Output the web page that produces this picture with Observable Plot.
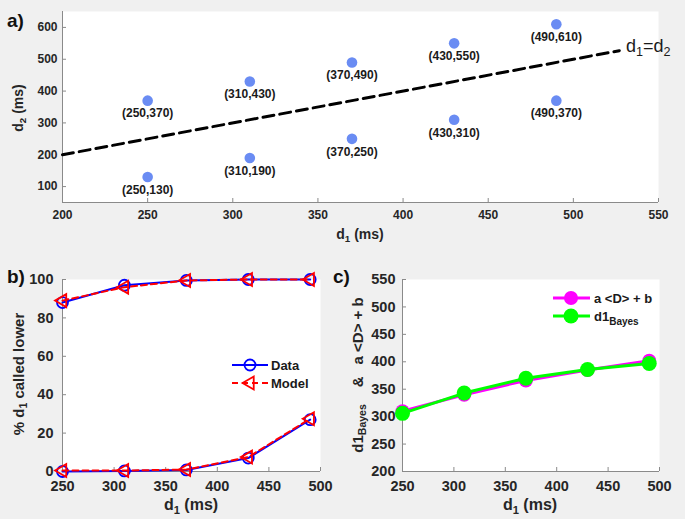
<!DOCTYPE html>
<html><head><meta charset="utf-8">
<script src="https://cdn.jsdelivr.net/npm/d3@7"></script>
<script src="https://cdn.jsdelivr.net/npm/@observablehq/plot@0.6"></script>
<style>
html,body{margin:0;padding:0;background:#f0f0f0;}
#wrap{position:relative;width:685px;height:519px;background:#f0f0f0;overflow:hidden;font-family:"Liberation Sans",Arial,Helvetica,sans-serif;font-weight:bold;color:#262626;}
.abs{position:absolute;white-space:nowrap;line-height:1;}
.c{transform:translate(-50%,-50%);}
.r{transform:translate(-50%,-50%) rotate(-90deg);}
sub{font-size:70%;vertical-align:-0.35em;line-height:0;}
svg{position:absolute;}
</style></head><body><div id="wrap"></div>
<script>
// ---------- data ----------
// panel a: stimulus pairs
const d1Pairs = [250,250,310,310,370,370,430,430,490,490];
const d2Pairs = [370,130,430,190,490,250,550,310,610,370];
const identityEnds = [200, 527];
const aXTicks = [200,250,300,350,400,450,500,550];
const aYTicks = [100,200,300,400,500,600];
// panel b: % d1 called lower
const d1Levels = [250,310,370,430,490];
const dataHigh = [88,97,99.5,100,100];
const dataLow = [0,0.3,0.8,7,27];
const modelHigh = [89,96,99.5,100,100];
const modelLow = [0.5,0.5,1,7.5,27.5];
const bXTicks = [250,300,350,400,450,500];
const bYTicks = [0,20,40,60,80,100];
// panel c
const linearFit = [310,340,366,385,402];
const d1Bayes = [306,343,370,386,397];
const cYTicks = [200,250,300,350,400,450,500,550];

// ---------- helpers ----------
const FONT = '"Liberation Sans",Arial,Helvetica,sans-serif';
const axisGray = "#8a8a8a";
const ink = "#262626";
const TICKFS = 14.5;
const wrap = document.getElementById("wrap");

const leftTriangle = {
  draw(ctx, size) {
    const a = Math.sqrt(4 * size / Math.sqrt(3));
    const h = a * Math.sqrt(3) / 2;
    ctx.moveTo(-2 * h / 3, 0);
    ctx.lineTo(h / 3, -a / 2);
    ctx.lineTo(h / 3, a / 2);
    ctx.closePath();
  }
};

function place(el, left, top) { el.style.left = left + "px"; el.style.top = top + "px"; wrap.appendChild(el); }
function label(html, x, y, size, cls, extra) {
  const d = document.createElement("div");
  d.className = "abs " + cls;
  d.innerHTML = html;
  d.style.fontSize = size + "px";
  d.style.left = x + "px"; d.style.top = y + "px";
  if (extra) Object.assign(d.style, extra);
  wrap.appendChild(d);
}
const series = (ys) => d1Levels.map((x, i) => ({x, y: ys[i]}));

// ---------- panel a ----------
const pts = d1Pairs.map((x, i) => ({x, y: d2Pairs[i]}));
const ident = identityEnds.map(d => ({x: d, y: d}));
const aW = 685, aH = 250, aML = 62, aMR = 27, aMT = 11, aMB = 48;
const plotA = Plot.plot({
  width: aW, height: aH, marginLeft: aML, marginRight: aMR, marginTop: aMT, marginBottom: aMB,
  x: {domain: [200, 550]}, y: {domain: [50, 650]},
  style: {background: "transparent", fontFamily: FONT, fontSize: "12px", fontWeight: "bold", color: ink, overflow: "visible"},
  marks: [
    Plot.frame({fill: "white", stroke: "none"}),
    Plot.tickX(aXTicks, {x: d => d, stroke: axisGray, insetTop: aH - aMT - aMB - 4}),
    Plot.tickY(aYTicks, {y: d => d, stroke: axisGray, insetRight: aW - aML - aMR - 4}),
    Plot.ruleX([200], {stroke: axisGray}),
    Plot.ruleY([50], {stroke: axisGray}),
    Plot.axisX({ticks: aXTicks, tickSize: 0, tickPadding: 8, label: null, fontSize: 12, fontWeight: "bold"}),
    Plot.axisY({ticks: aYTicks, tickSize: 0, tickPadding: 5, label: null, fontSize: 12, fontWeight: "bold"}),
    Plot.line(ident, {x: "x", y: "y", stroke: "black", strokeWidth: 3, strokeDasharray: "11,6"}),
    Plot.dot(pts, {x: "x", y: "y", r: 5.3, fill: "#6a8cf3"}),
    Plot.text(pts, {x: "x", y: "y", text: d => `(${d.x},${d.y})`, dy: 13, fontSize: 12, fontWeight: "bold", fill: "#1a1a1a"})
  ]
});
place(plotA, 0, 0);

// ---------- panel b ----------
const bW = 340, bH = 259, bML = 62, bMR = 20, bMT = 19, bMB = 48;
const plotB = Plot.plot({
  width: bW, height: bH, marginLeft: bML, marginRight: bMR, marginTop: bMT, marginBottom: bMB,
  x: {domain: [250, 500]}, y: {domain: [0, 100]},
  style: {background: "transparent", fontFamily: FONT, fontSize: TICKFS + "px", fontWeight: "bold", color: ink, overflow: "visible"},
  marks: [
    Plot.frame({fill: "white", stroke: "none"}),
    Plot.tickX(bXTicks, {x: d => d, stroke: axisGray, insetTop: bH - bMT - bMB - 4}),
    Plot.tickY(bYTicks, {y: d => d, stroke: axisGray, insetRight: bW - bML - bMR - 4}),
    Plot.ruleX([250], {stroke: axisGray}),
    Plot.ruleY([0], {stroke: axisGray}),
    Plot.axisX({ticks: bXTicks, tickSize: 0, tickPadding: 9, label: null, fontSize: TICKFS, fontWeight: "bold"}),
    Plot.axisY({ticks: bYTicks, tickSize: 0, tickPadding: 9, label: null, fontSize: TICKFS, fontWeight: "bold"}),
    ...[dataHigh, dataLow].flatMap(s => [
      Plot.line(series(s), {x: "x", y: "y", stroke: "#0000ff", strokeWidth: 2}),
      Plot.dot(series(s), {x: "x", y: "y", r: 5.5, stroke: "#0000ff", strokeWidth: 1.8, fill: "none"})
    ]),
    ...[modelHigh, modelLow].flatMap(s => [
      Plot.line(series(s), {x: "x", y: "y", stroke: "#ff0000", strokeWidth: 2, strokeDasharray: "6,4"}),
      Plot.dot(series(s), {x: "x", y: "y", r: 4.8, symbol: leftTriangle, stroke: "#ff0000", strokeWidth: 1.8, fill: "none"})
    ])
  ]
});
place(plotB, 0, 260);

// ---------- panel c ----------
const cW = 345, cH = 259, cML = 62, cMR = 26, cMT = 19, cMB = 48;
const plotC = Plot.plot({
  width: cW, height: cH, marginLeft: cML, marginRight: cMR, marginTop: cMT, marginBottom: cMB,
  x: {domain: [250, 500]}, y: {domain: [200, 550]},
  style: {background: "transparent", fontFamily: FONT, fontSize: TICKFS + "px", fontWeight: "bold", color: ink, overflow: "visible"},
  marks: [
    Plot.frame({fill: "white", stroke: "none"}),
    Plot.tickX(bXTicks, {x: d => d, stroke: axisGray, insetTop: cH - cMT - cMB - 4}),
    Plot.tickY(cYTicks, {y: d => d, stroke: axisGray, insetRight: cW - cML - cMR - 4}),
    Plot.ruleX([250], {stroke: axisGray}),
    Plot.ruleY([200], {stroke: axisGray}),
    Plot.axisX({ticks: bXTicks, tickSize: 0, tickPadding: 9, label: null, fontSize: TICKFS, fontWeight: "bold"}),
    Plot.axisY({ticks: cYTicks, tickSize: 0, tickPadding: 7, label: null, fontSize: TICKFS, fontWeight: "bold"}),
    Plot.line(series(linearFit), {x: "x", y: "y", stroke: "#ff00ff", strokeWidth: 3}),
    Plot.dot(series(linearFit), {x: "x", y: "y", r: 7, fill: "#ff00ff"}),
    Plot.line(series(d1Bayes), {x: "x", y: "y", stroke: "#00ff00", strokeWidth: 3}),
    Plot.dot(series(d1Bayes), {x: "x", y: "y", r: 7.5, fill: "#00ff00"})
  ]
});
place(plotC, 340, 260);

// ---------- legends (overlay) ----------
const ov = d3.select(wrap).append("svg").attr("width", 685).attr("height", 519)
  .style("left", "0px").style("top", "0px").style("pointer-events", "none")
  .style("font-family", FONT).style("font-weight", "bold");
// panel b legend
ov.append("line").attr("x1", 232).attr("x2", 268).attr("y1", 365).attr("y2", 365).attr("stroke", "#0000ff").attr("stroke-width", 2);
ov.append("circle").attr("cx", 250).attr("cy", 365).attr("r", 5.5).attr("fill", "none").attr("stroke", "#0000ff").attr("stroke-width", 1.8);
ov.append("text").attr("x", 271).attr("y", 365).attr("dy", "0.35em").attr("font-size", 13).attr("fill", "#1a1a1a").text("Data");
ov.append("line").attr("x1", 232).attr("x2", 268).attr("y1", 383).attr("y2", 383).attr("stroke", "#ff0000").attr("stroke-width", 2).attr("stroke-dasharray", "6,4");
ov.append("path").attr("transform", "translate(250,383)").attr("d", d3.symbol(leftTriangle, Math.PI * 4.8 * 4.8)()).attr("fill", "none").attr("stroke", "#ff0000").attr("stroke-width", 1.8);
ov.append("text").attr("x", 271).attr("y", 383).attr("dy", "0.35em").attr("font-size", 13).attr("fill", "#1a1a1a").text("Model");
// panel c legend
ov.append("line").attr("x1", 553).attr("x2", 590).attr("y1", 298).attr("y2", 298).attr("stroke", "#ff00ff").attr("stroke-width", 3);
ov.append("circle").attr("cx", 571).attr("cy", 298).attr("r", 7).attr("fill", "#ff00ff");
ov.append("text").attr("x", 594).attr("y", 298).attr("dy", "0.35em").attr("font-size", 13).attr("fill", "#1a1a1a").text("a <D> + b");
ov.append("line").attr("x1", 553).attr("x2", 590).attr("y1", 316).attr("y2", 316).attr("stroke", "#00ff00").attr("stroke-width", 3);
ov.append("circle").attr("cx", 571).attr("cy", 316).attr("r", 7.5).attr("fill", "#00ff00");
const t2 = ov.append("text").attr("x", 594).attr("y", 316).attr("dy", "0.35em").attr("font-size", 13).attr("fill", "#1a1a1a");
t2.append("tspan").text("d1");
t2.append("tspan").attr("font-size", 10).attr("dy", "0.45em").text("Bayes");

// ---------- text labels ----------
label("a)", 7, 11, 19, "", {color: "#111"});
label("b)", 7, 267, 19, "", {color: "#111"});
label("c)", 333, 267, 19, "", {color: "#111"});
label("d<sub>1</sub> (ms)", 360, 234, 14, "c");
label("d<sub>2</sub> (ms)", 18, 108, 14, "r");
label("d<sub>1</sub> (ms)", 191, 505, 16, "c");
label("d<sub>1</sub> (ms)", 530, 505, 16, "c");
label("% d<sub>1</sub> called lower", 18, 374, 15, "r");
label('d1<sub>Bayes</sub><span style="display:inline-block;width:17px"></span>&amp;<span style="display:inline-block;width:12px"></span>a &lt;D&gt; + b', 357, 375, 15, "r");
label("d<sub>1</sub>=d<sub>2</sub>", 626, 37, 18, "", {fontWeight: "normal", color: "#1a1a1a"});
</script></body></html>
